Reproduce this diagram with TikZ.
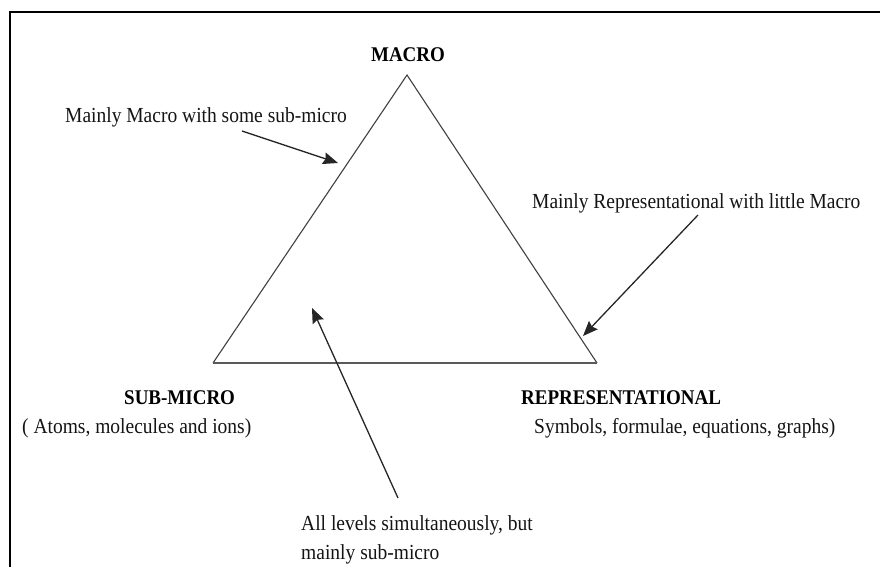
\documentclass[tikz,border=0pt]{standalone}
\usepackage{fontspec}
\setmainfont{Liberation Serif}
\usetikzlibrary{arrows.meta}
\newcommand\tallbox[1]{\scalebox{1}[1.1]{#1}}
\begin{document}
\begin{tikzpicture}[x=1pt,y=-1pt,
  lbl/.style={inner sep=0pt,text=black!92,font=\fontsize{19.5}{26}\selectfont},
  bld/.style={inner sep=0pt,text=black,font=\fontsize{19}{24}\selectfont\bfseries},
  side/.style={draw=black!75,line width=1.1pt},
  basel/.style={draw=black!65,line width=2pt},
  frame/.style={draw=black,line width=2pt},
  pointer/.style={draw=black!85,line width=1.3pt,-{Stealth[length=15pt,width=12pt,inset=2pt]}}]
\useasboundingbox (0,0) rectangle (880,567);
\draw[frame] (880,12) -- (10,12) -- (10,567);
\coordinate (M) at (407,75);
\coordinate (S) at (213,363);
\coordinate (R) at (597,363);
\draw[side] (S) -- (M) -- (R);
\draw[basel] (S) -- (R);
\node[bld] (macro) at (408,55) {\tallbox{MACRO}};
\node[lbl,anchor=west] (t1) at (65,117) {\tallbox{Mainly Macro with some sub-micro}};
\node[lbl,anchor=west] (t2) at (532,203) {\tallbox{Mainly Representational with little Macro}};
\node[bld,anchor=west] (sub) at (124,398) {\tallbox{SUB-MICRO}};
\node[lbl,anchor=west] (subd) at (22,428) {\tallbox{( Atoms, molecules and ions)}};
\node[bld,anchor=west] (rep) at (521,398) {\tallbox{REPRESENTATIONAL}};
\node[lbl,anchor=west] (repd) at (534,428) {\tallbox{Symbols, formulae, equations, graphs)}};
\node[lbl,anchor=north west] (t3) at (301,510) {\tallbox{\begin{tabular}{@{}l@{}}All levels simultaneously, but\\[0.5pt]mainly sub-micro\end{tabular}}};
\coordinate (a1s) at (242,131);
\coordinate (a1e) at (338,163);
\coordinate (a2s) at (698,215);
\coordinate (a2e) at (583,336);
\coordinate (a3s) at (398,498);
\coordinate (a3e) at (312,308);
\draw[pointer] (a1s) -- (a1e);
\draw[pointer] (a2s) -- (a2e);
\draw[pointer] (a3s) -- (a3e);
\end{tikzpicture}
\end{document}
